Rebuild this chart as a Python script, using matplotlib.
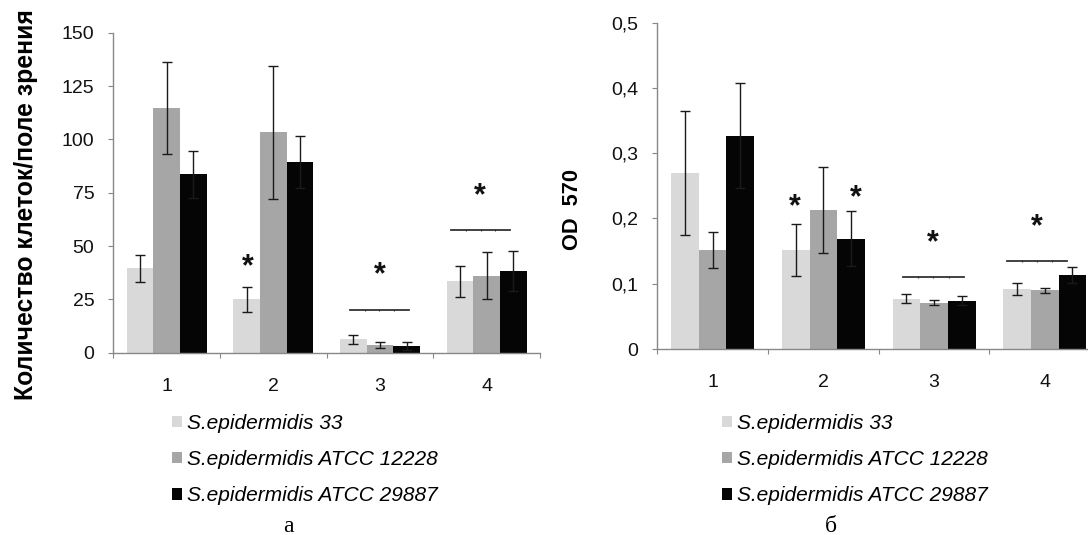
import matplotlib.pyplot as plt
import numpy as np
from matplotlib.patches import Patch
from matplotlib.ticker import FuncFormatter


plt.rcParams["font.family"] = ["Liberation Sans", "DejaVu Sans"]

groups = ["1", "2", "3", "4"]
strains = ["S.epidermidis 33", "S.epidermidis ATCC 12228", "S.epidermidis ATCC 29887"]
colors = ["#d9d9d9", "#a6a6a6", "#050505"]

# panel a: cells per field of view
cells_33 = [39.5, 25.0, 6.2, 33.5]
cells_33_err = [6.5, 5.7, 1.9, 7.2]
cells_12228 = [114.6, 103.3, 3.4, 36.0]
cells_12228_err = [21.5, 31.3, 1.4, 11.0]
cells_29887 = [83.6, 89.2, 3.0, 38.3]
cells_29887_err = [11.0, 12.2, 1.8, 9.5]
cells_yticks = [0, 25, 50, 75, 100, 125, 150]

# panel b: OD 570
od_33 = [0.270, 0.152, 0.077, 0.092]
od_33_err = [0.095, 0.040, 0.007, 0.009]
od_12228 = [0.152, 0.213, 0.071, 0.090]
od_12228_err = [0.028, 0.066, 0.004, 0.004]
od_29887 = [0.327, 0.169, 0.074, 0.113]
od_29887_err = [0.080, 0.042, 0.007, 0.012]
od_yticks = [0, 0.1, 0.2, 0.3, 0.4, 0.5]

# significance marks: star (x, y) and bracket lines (x0, x1, y)
cells_stars = [(0.76, 42.7), (2.0, 38.8), (2.94, 75.8)]
cells_lines = [(1.72, 2.27, 20.0), (2.67, 3.22, 57.4)]
od_stars = [(0.74, 0.226), (1.29, 0.239), (1.99, 0.171), (2.93, 0.195)]
od_lines = [(1.72, 2.27, 0.110), (2.66, 3.20, 0.1344)]

W, H = 1088, 535
fig = plt.figure(figsize=(W / 100, H / 100), dpi=100)


def px_axes(x0, y_top, x1, y_bot):
    return fig.add_axes([x0 / W, 1 - y_bot / H, (x1 - x0) / W, (y_bot - y_top) / H])


def draw_panel(ax, series, errs, yticks, ymax, stars, lines, fmt=None):
    x = np.arange(len(groups))
    width = 0.25
    for i, (vals, err) in enumerate(zip(series, errs)):
        pos = x + (i - 1) * width
        ax.bar(pos, vals, width, color=colors[i], zorder=2)
        ax.errorbar(pos, vals, yerr=err, fmt="none", ecolor="#1a1a1a",
                    elinewidth=1.0, capsize=3.5, capthick=1.0, zorder=3)

    for sx, sy in stars:
        ax.annotate("*", (sx, sy), xytext=(0, -4), textcoords="offset points",
                    ha="center", va="center", fontsize=22,
                    fontweight="bold", color="#111111")
    for x0, x1, ly in lines:
        xs = np.linspace(x0, x1, 5)
        ax.plot(xs, [ly] * 5, color="#333333", lw=1.3, marker="|",
                markersize=2, markeredgewidth=0.8, markevery=[1, 2, 3], zorder=3)

    ax.set_xlim(-0.5, len(groups) - 0.5)
    ax.set_ylim(0, ymax)
    ax.set_xticks(x)
    ax.set_xticklabels(groups)
    ax.set_xticks(np.arange(len(groups) + 1) - 0.5, minor=True)
    ax.set_yticks(yticks)
    if fmt is not None:
        ax.yaxis.set_major_formatter(FuncFormatter(fmt))

    ax.tick_params(axis="x", which="major", length=0, pad=18, labelsize=14, colors="#111111")
    ax.tick_params(axis="x", which="minor", length=3.6, width=0.8, color="#888888")
    ax.tick_params(axis="y", length=3.6, width=0.8, pad=10, labelsize=14,
                   color="#888888", labelcolor="#111111")
    for side in ["top", "right"]:
        ax.spines[side].set_visible(False)
    for side in ["left", "bottom"]:
        ax.spines[side].set_color("#888888")
        ax.spines[side].set_linewidth(1.0)


def comma(v, pos):
    if v == 0:
        return "0"
    return f"{v:.1f}".replace(".", ",")


ax_a = px_axes(113.3, 32.7, 540, 352.7)
draw_panel(ax_a,
           [cells_33, cells_12228, cells_29887],
           [cells_33_err, cells_12228_err, cells_29887_err],
           cells_yticks, 150, cells_stars, cells_lines)

ax_b = px_axes(657.3, 22.7, 657.3 + 4 * 110.7, 349)
draw_panel(ax_b,
           [od_33, od_12228, od_29887],
           [od_33_err, od_12228_err, od_29887_err],
           od_yticks, 0.5, od_stars, od_lines, fmt=comma)

fig.text(26 / W, 1 - 205 / H, "Количество клеток/поле зрения", rotation=90,
         ha="center", va="center", fontsize=17.8, fontweight="bold")
fig.text(572 / W, 1 - 209 / H, "OD  570", rotation=90,
         ha="center", va="center", fontsize=15.7, fontweight="bold")

handles = [Patch(facecolor=c, edgecolor="none") for c in colors]
for left in [172, 722.3]:
    fig.legend(handles, strains, loc="upper left",
               bbox_to_anchor=(left / W, 1 - 414 / H),
               frameon=False, borderpad=0, borderaxespad=0,
               handlelength=0.48, handleheight=0.48, handletextpad=0.24,
               labelspacing=0.82, prop={"style": "italic", "size": 15})

fig.text(288 / W, 1 - 532 / H, "а", ha="center", va="baseline", fontsize=17,
         family=["Liberation Serif", "DejaVu Serif"])
fig.text(831 / W, 1 - 532 / H, "б", ha="center", va="baseline", fontsize=17,
         family=["Liberation Serif", "DejaVu Serif"])

fig.savefig("out.png", dpi=100)
